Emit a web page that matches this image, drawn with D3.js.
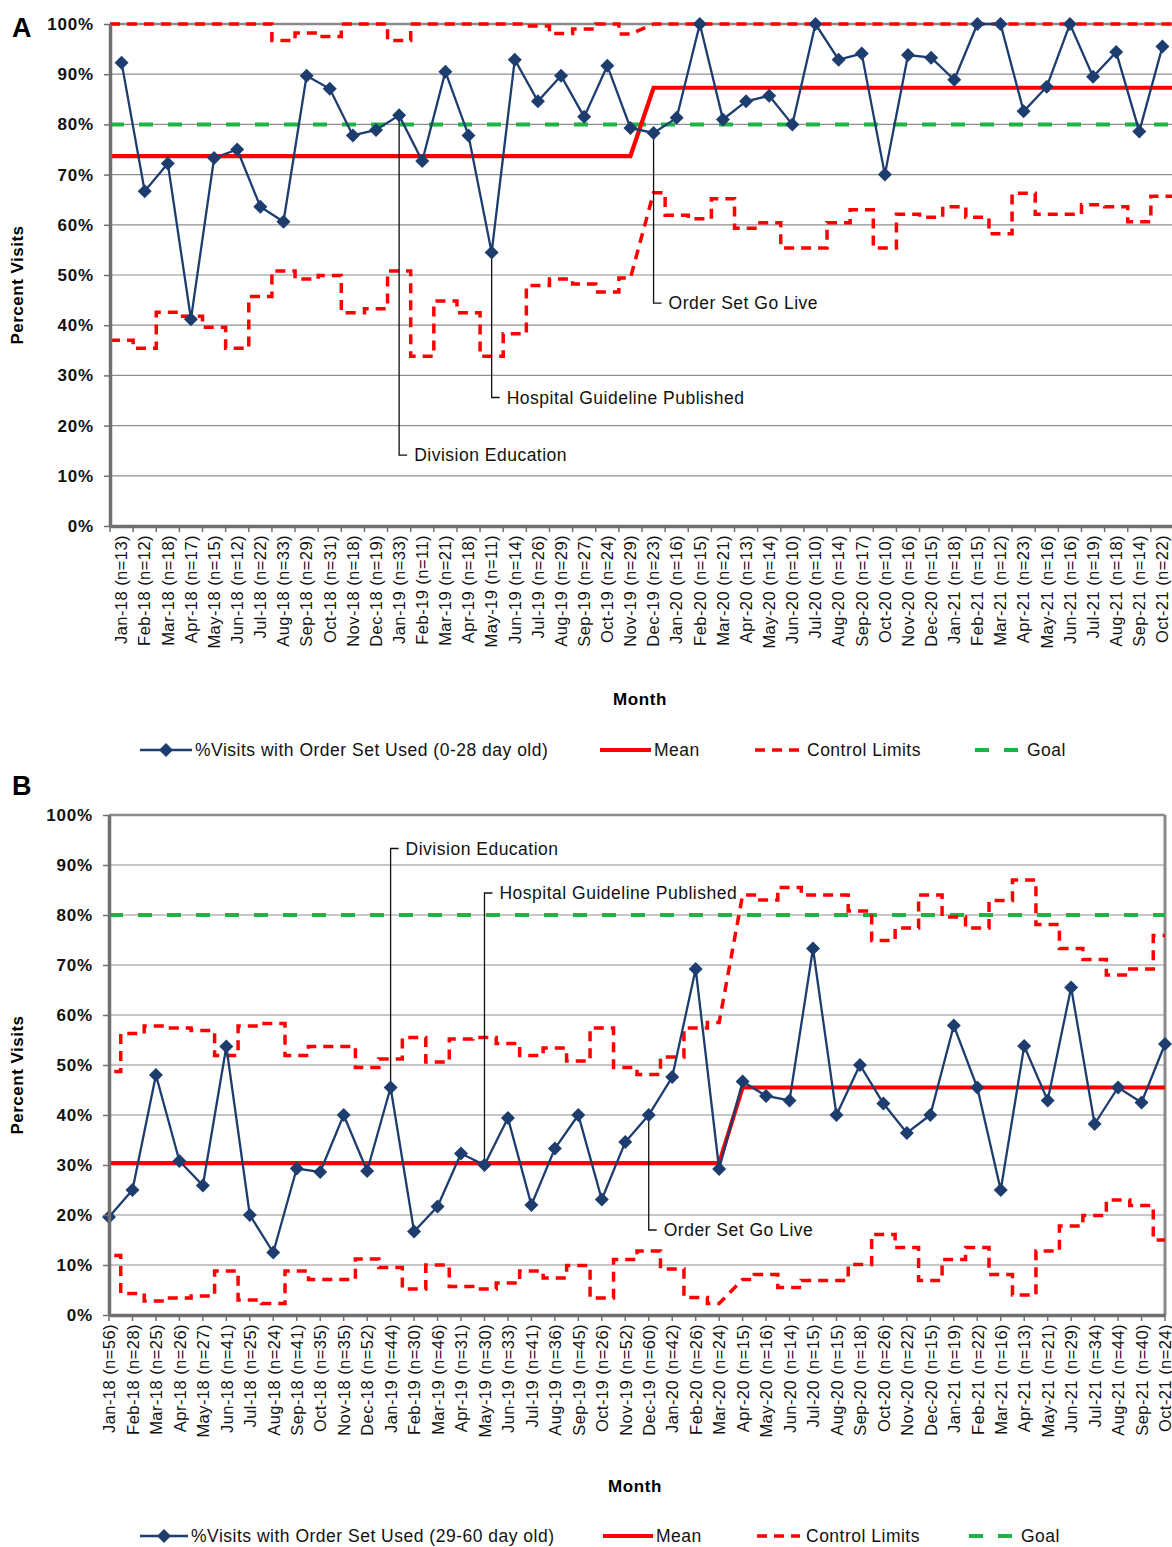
<!DOCTYPE html>
<html>
<head>
<meta charset="utf-8">
<script src="https://cdn.jsdelivr.net/npm/d3@7"></script>
<style>
  body { margin: 0; background: #fff; overflow: hidden; }
  svg { display: block; font-family: 'Liberation Sans', Arial, sans-serif; }
</style>
</head>
<body>
<div id="wrapper"></div>
<script>
// months on the x axis (same for both panels)
const months = [
  'Jan-18', 'Feb-18', 'Mar-18', 'Apr-18', 'May-18', 'Jun-18', 'Jul-18', 'Aug-18', 'Sep-18', 'Oct-18', 'Nov-18', 'Dec-18',
  'Jan-19', 'Feb-19', 'Mar-19', 'Apr-19', 'May-19', 'Jun-19', 'Jul-19', 'Aug-19', 'Sep-19', 'Oct-19', 'Nov-19', 'Dec-19',
  'Jan-20', 'Feb-20', 'Mar-20', 'Apr-20', 'May-20', 'Jun-20', 'Jul-20', 'Aug-20', 'Sep-20', 'Oct-20', 'Nov-20', 'Dec-20',
  'Jan-21', 'Feb-21', 'Mar-21', 'Apr-21', 'May-21', 'Jun-21', 'Jul-21', 'Aug-21', 'Sep-21', 'Oct-21',
]

// panel A: 0-28 day old
const nA = [13, 12, 18, 17, 15, 12, 22, 33, 29, 31, 18, 19, 33, 11, 21, 18, 11, 14, 26, 29, 27, 24, 29, 23,
  16, 15, 21, 13, 14, 10, 10, 14, 17, 10, 16, 15, 18, 15, 12, 23, 16, 16, 19, 18, 14, 22]
const pctA = [92.3, 66.7, 72.2, 41.2, 73.3, 75.0, 63.6, 60.6, 89.7, 87.1, 77.8, 78.9,
  81.8, 72.7, 90.5, 77.8, 54.5, 92.9, 84.6, 89.7, 81.5, 91.7, 79.3, 78.3,
  81.3, 100, 81.0, 84.6, 85.7, 80.0, 100, 92.9, 94.1, 70.0, 93.8, 93.3,
  88.9, 100, 100, 82.6, 87.5, 100, 89.5, 94.4, 78.6, 95.5]
const uclA = [100, 100, 100, 100, 100, 100, 100, 96.7, 98.2, 97.5, 100, 100,
  96.7, 100, 100, 100, 100, 100, 99.6, 98.1, 99.0, 100, 98.0, 100,
  100, 100, 100, 100, 100, 100, 100, 100, 100, 100, 100, 100,
  100, 100, 100, 100, 100, 100, 100, 100, 100, 100]
const lclA = [37.0, 35.4, 42.6, 41.8, 39.6, 35.4, 45.7, 50.8, 49.2, 49.9, 42.5, 43.3,
  50.8, 33.8, 44.8, 42.5, 33.8, 38.3, 47.9, 49.2, 48.2, 46.6, 49.4, 66.4,
  61.9, 61.2, 65.2, 59.3, 60.4, 55.4, 55.4, 60.4, 63.0, 55.4, 62.1, 61.5,
  63.6, 61.5, 58.2, 66.3, 62.1, 62.1, 64.0, 63.6, 60.6, 65.7]
const meanA = [73.7, 87.3]
const phaseStartA = 'Dec-19'
const notesA = [
  { month: 'Jan-19', at: 14.1, text: 'Division Education' },
  { month: 'May-19', at: 25.6, text: 'Hospital Guideline Published' },
  { month: 'Dec-19', at: 44.4, text: 'Order Set Go Live' },
]

// panel B: 29-60 day old
const nB = [56, 28, 25, 26, 27, 41, 25, 24, 41, 35, 35, 52, 44, 30, 46, 31, 30, 33, 41, 36, 45, 26, 52, 60,
  42, 26, 24, 15, 16, 14, 15, 15, 18, 26, 22, 15, 19, 22, 16, 13, 21, 29, 34, 44, 40, 24]
const pctB = [19.6, 25.0, 48.0, 30.8, 25.9, 53.7, 20.0, 12.5, 29.3, 28.6, 40.0, 28.8,
  45.5, 16.7, 21.7, 32.3, 30.0, 39.4, 22.0, 33.3, 40.0, 23.1, 34.6, 40.0,
  47.6, 69.2, 29.2, 46.7, 43.8, 42.9, 73.3, 40.0, 50.0, 42.3, 36.4, 40.0,
  57.9, 45.5, 25.0, 53.8, 42.9, 65.5, 38.2, 45.5, 42.5, 54.2]
const uclB = [48.7, 56.3, 57.8, 57.4, 56.9, 51.9, 57.8, 58.3, 51.9, 53.7, 53.7, 49.5,
  51.2, 55.5, 50.6, 55.2, 55.5, 54.3, 51.9, 53.4, 50.8, 57.4, 49.5, 48.1,
  51.6, 57.4, 58.5, 84.0, 83.0, 85.5, 84.0, 84.0, 80.8, 74.9, 77.4, 84.0,
  79.6, 77.4, 82.9, 87.0, 78.1, 73.3, 71.1, 68.0, 69.2, 75.9]
const lclB = [11.9, 4.3, 2.8, 3.4, 3.8, 8.8, 3.0, 2.3, 8.8, 7.1, 7.1, 11.2,
  9.5, 5.2, 10.0, 5.7, 5.2, 6.4, 8.8, 7.4, 9.9, 3.4, 11.1, 12.8,
  9.2, 3.5, 2.3, 7.1, 8.1, 5.5, 6.9, 6.9, 10.1, 16.1, 13.5, 6.9,
  11.1, 13.5, 8.1, 4.0, 12.8, 17.8, 19.9, 23.0, 21.9, 15.0]
const meanB = [30.4, 45.5]
const phaseStartB = 'Apr-20'
const notesB = [
  { month: 'Jan-19', at: 93.3, text: 'Division Education' },
  { month: 'May-19', at: 84.4, text: 'Hospital Guideline Published' },
  { month: 'Dec-19', at: 17.0, text: 'Order Set Go Live' },
]

const goal = 80
const yTicks = [0, 10, 20, 30, 40, 50, 60, 70, 80, 90, 100]

const colors = {
  series: '#1d3d6f',
  red: '#ff0000',
  green: '#1db345',
  grid: '#8f8f8f',
  axis: '#6f6f6f',
}

const svg = d3
  .select('#wrapper')
  .append('svg')
  .attr('width', 1172)
  .attr('height', 1547)

const diamond = d3.symbol().type(d3.symbolSquare).size(98)

function drawPanel(p) {
  // A puts points in the middle of each band, B puts them on the ticks
  const x =
    p.mode === 'band'
      ? d3.scaleBand().domain(months).range([p.left, p.right])
      : d3.scalePoint().domain(months).range([p.left, p.right])
  const half = x.step() / 2
  const cx = (m) => x(m) + (p.mode === 'band' ? x.bandwidth() / 2 : 0)
  const y = d3.scaleLinear().domain([0, 100]).range([p.bottom, p.top])

  const g = svg.append('g').attr('class', 'panel-' + p.id)

  // clip for the step lines
  g.append('clipPath')
    .attr('id', 'clip-' + p.id)
    .append('rect')
    .attr('x', p.left)
    .attr('y', p.top - 3)
    .attr('width', p.right - p.left)
    .attr('height', p.bottom - p.top + 3)

  // gridlines
  g.append('g')
    .selectAll('line')
    .data(yTicks)
    .join('line')
    .attr('x1', p.left)
    .attr('x2', p.right)
    .attr('y1', (d) => y(d))
    .attr('y2', (d) => y(d))
    .attr('stroke', colors.grid)
    .attr('stroke-width', 1.2)

  // frame top / right
  g.append('line')
    .attr('x1', p.left).attr('x2', p.right)
    .attr('y1', p.top).attr('y2', p.top)
    .attr('stroke', '#8a8a8a').attr('stroke-width', 2.5)
  g.append('line')
    .attr('x1', p.right).attr('x2', p.right)
    .attr('y1', p.top).attr('y2', p.bottom)
    .attr('stroke', '#8a8a8a').attr('stroke-width', 3)

  // step points: each month spans its own band, phase change joins centre to centre
  const breakIdx = months.indexOf(p.phaseStart)
  function stepPoints(vals) {
    const pts = []
    vals.forEach((v, i) => {
      const c = cx(months[i])
      pts.push([i === breakIdx ? c : c - half, v])
      pts.push([i === breakIdx - 1 ? c : c + half, v])
    })
    return pts
  }
  const stepLine = d3
    .line()
    .x((d) => d[0])
    .y((d) => y(d[1]))

  const lines = g.append('g').attr('clip-path', `url(#clip-${p.id})`)

  // goal
  lines
    .append('line')
    .attr('x1', p.left)
    .attr('x2', p.right)
    .attr('y1', y(goal))
    .attr('y2', y(goal))
    .attr('stroke', colors.green)
    .attr('stroke-width', 4)
    .attr('stroke-dasharray', '14,15')

  // control limits
  ;[p.ucl, p.lcl].forEach((vals) => {
    lines
      .append('path')
      .attr('d', stepLine(stepPoints(vals)))
      .attr('fill', 'none')
      .attr('stroke', colors.red)
      .attr('stroke-width', 3.5)
      .attr('stroke-dasharray', '10,7')
  })

  // mean
  const meanVals = months.map((m, i) => (i < breakIdx ? p.mean[0] : p.mean[1]))
  lines
    .append('path')
    .attr('d', stepLine(stepPoints(meanVals)))
    .attr('fill', 'none')
    .attr('stroke', colors.red)
    .attr('stroke-width', 4.2)

  // annotations
  const notes = g.append('g').attr('class', 'notes')
  p.notes.forEach((n) => {
    const i = months.indexOf(n.month)
    const px = cx(n.month)
    notes
      .append('path')
      .attr(
        'd',
        `M${px},${y(p.pct[i])}L${px},${y(n.at)}L${px + 8},${y(n.at)}`
      )
      .attr('fill', 'none')
      .attr('stroke', '#111')
      .attr('stroke-width', 1.3)
    notes
      .append('text')
      .attr('x', px + 15)
      .attr('y', y(n.at))
      .attr('dy', '0.35em')
      .attr('font-size', 17.5)
      .attr('letter-spacing', 0.5)
      .attr('fill', '#111')
      .text(n.text)
  })

  // series
  const seriesLine = d3
    .line()
    .x((d, i) => cx(months[i]))
    .y((d) => y(d))
  g.append('path')
    .attr('d', seriesLine(p.pct))
    .attr('fill', 'none')
    .attr('stroke', colors.series)
    .attr('stroke-width', 2.3)

  g.append('g')
    .selectAll('path')
    .data(p.pct)
    .join('path')
    .attr('d', diamond)
    .attr('fill', colors.series)
    .attr(
      'transform',
      (d, i) => `translate(${cx(months[i])},${y(d)}) rotate(45)`
    )

  // y axis
  const yAxis = g
    .append('g')
    .attr('transform', `translate(${p.left},0)`)
    .call(
      d3
        .axisLeft(y)
        .tickValues(yTicks)
        .tickFormat((d) => d + '%')
        .tickSize(6)
        .tickSizeOuter(0)
        .tickPadding(10)
    )
  yAxis.select('.domain').attr('stroke', colors.axis).attr('stroke-width', 3.5)
  yAxis.selectAll('.tick line').attr('stroke', colors.axis).attr('stroke-width', 1.5)
  yAxis
    .selectAll('.tick text')
    .attr('font-size', 17)
    .attr('letter-spacing', 0.8)
    .attr('font-weight', 'bold')
    .attr('fill', '#111')
    .attr('font-family', "'Liberation Sans', Arial, sans-serif")

  // x axis, labels rotated
  const xAxis = g
    .append('g')
    .attr('transform', `translate(0,${p.bottom})`)
    .call(
      d3
        .axisBottom(x)
        .tickSize(0)
        .tickSizeOuter(0)
        .tickFormat((m) => `${m} (n=${p.n[months.indexOf(m)]})`)
    )
  xAxis.select('.domain').attr('stroke', colors.axis).attr('stroke-width', 3.5)
  xAxis
    .selectAll('.tick text')
    .attr('transform', 'rotate(-90)')
    .attr('text-anchor', 'end')
    .attr('x', -9)
    .attr('y', 0)
    .attr('dy', '0.35em')
    .attr('font-size', 16.5)
    .attr('letter-spacing', 0.45)
    .attr('fill', '#111')
    .attr('font-family', "'Liberation Sans', Arial, sans-serif")

  // x tick marks: band edges for A, points for B
  const tickXs =
    p.mode === 'band'
      ? months.map((m) => x(m)).concat([x(months[months.length - 1]) + x.step()])
      : months.map(cx)
  g.append('g')
    .selectAll('line')
    .data(tickXs)
    .join('line')
    .attr('x1', (d) => d)
    .attr('x2', (d) => d)
    .attr('y1', p.bottom)
    .attr('y2', p.bottom + 6)
    .attr('stroke', colors.axis)
    .attr('stroke-width', 1.5)

  // titles
  g.append('text')
    .attr('x', 12)
    .attr('y', p.labelY)
    .attr('font-size', 27)
    .attr('font-weight', 'bold')
    .text(p.id)

  g.append('text')
    .attr('transform', `translate(${p.yTitleX},${(p.top + p.bottom) / 2 + 10}) rotate(-90)`)
    .attr('text-anchor', 'middle')
    .attr('font-size', 17)
    .attr('letter-spacing', 0.5)
    .attr('font-weight', 'bold')
    .text('Percent Visits')

  g.append('text')
    .attr('x', p.monthX)
    .attr('y', p.monthY)
    .attr('text-anchor', 'middle')
    .attr('dy', '0.35em')
    .attr('font-size', 17)
    .attr('letter-spacing', 0.6)
    .attr('font-weight', 'bold')
    .text('Month')

  // legend
  const lg = g.append('g').attr('transform', `translate(0,${p.legendY})`)
  const L = p.legend
  lg.append('line')
    .attr('x1', L.series[0]).attr('x2', L.series[1])
    .attr('stroke', colors.series).attr('stroke-width', 2.3)
  lg.append('path')
    .attr('d', diamond)
    .attr('fill', colors.series)
    .attr('transform', `translate(${(L.series[0] + L.series[1]) / 2},0) rotate(45)`)
  lg.append('line')
    .attr('x1', L.mean[0]).attr('x2', L.mean[1])
    .attr('stroke', colors.red).attr('stroke-width', 4.2)
  lg.append('line')
    .attr('x1', L.limits[0]).attr('x2', L.limits[1])
    .attr('stroke', colors.red).attr('stroke-width', 3.5)
    .attr('stroke-dasharray', '10,7')
  lg.append('line')
    .attr('x1', L.goal[0]).attr('x2', L.goal[1])
    .attr('stroke', colors.green).attr('stroke-width', 4)
    .attr('stroke-dasharray', '14,15')
  const legendTexts = [
    [L.series[1] + 3, `%Visits with Order Set Used (${p.age})`],
    [L.mean[1] + 3, 'Mean'],
    [L.limits[1] + 6, 'Control Limits'],
    [L.goal[1] + 6, 'Goal'],
  ]
  lg.selectAll('text')
    .data(legendTexts)
    .join('text')
    .attr('x', (d) => d[0])
    .attr('dy', '0.35em')
    .attr('font-size', 17.5)
    .attr('letter-spacing', 0.5)
    .attr('fill', '#111')
    .text((d) => d[1])
}

drawPanel({
  id: 'A',
  mode: 'band',
  n: nA,
  pct: pctA,
  ucl: uclA,
  lcl: lclA,
  mean: meanA,
  phaseStart: phaseStartA,
  notes: notesA,
  age: '0-28 day old',
  left: 110,
  right: 1174,
  top: 24,
  bottom: 526,
  labelY: 37,
  yTitleX: 23,
  monthX: 640,
  monthY: 699,
  legendY: 750,
  legend: { series: [140, 192], mean: [600, 651], limits: [755, 801], goal: [975, 1021] },
})

drawPanel({
  id: 'B',
  mode: 'point',
  n: nB,
  pct: pctB,
  ucl: uclB,
  lcl: lclB,
  mean: meanB,
  phaseStart: phaseStartB,
  notes: notesB,
  age: '29-60 day old',
  left: 109,
  right: 1165,
  top: 815,
  bottom: 1315,
  labelY: 795,
  yTitleX: 23,
  monthX: 635,
  monthY: 1486,
  legendY: 1536,
  legend: { series: [140, 188], mean: [603, 653], limits: [757, 800], goal: [969, 1015] },
})
</script>
</body>
</html>
